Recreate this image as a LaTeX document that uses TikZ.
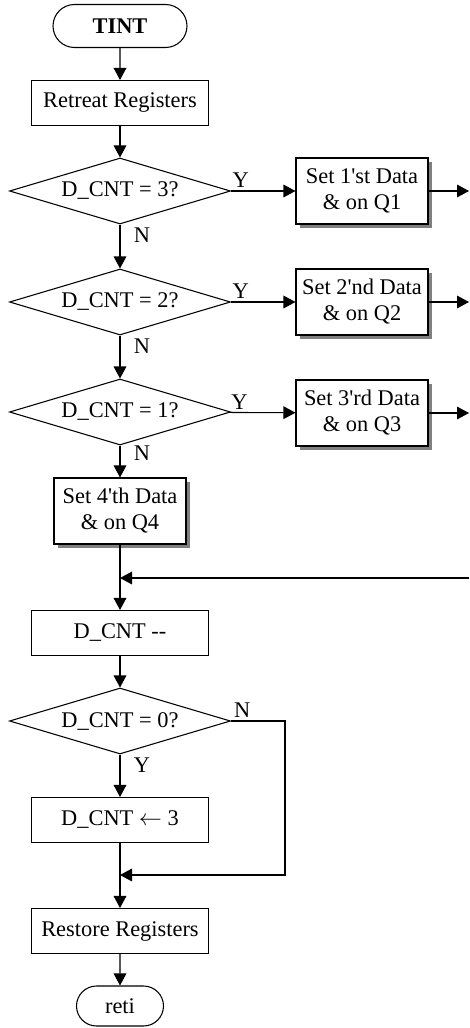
\documentclass[tikz,border=0pt]{standalone}
\usepackage{fontspec}
\setmainfont{Liberation Serif}[Ligatures=TeXOff]
\usetikzlibrary{arrows.meta}
\usetikzlibrary{shapes.geometric,shapes.misc}
\usetikzlibrary{shadows}

\begin{document}
\begin{tikzpicture}[x=0.75pt,y=-0.75pt,->,>={Triangle[length=9pt,width=9.5pt]},
  line width=0.8pt,font=\fontsize{16.8}{19.5}\selectfont]
\tikzstyle{terminal}=[rounded rectangle,draw,fill=white,inner sep=0pt,
  minimum width=100.5pt,
  minimum height=32.25pt
]

\tikzstyle{process}=[rectangle,draw,fill=white,inner sep=0pt,
  minimum width=132.75pt,
  minimum height=33.75pt
]

\tikzstyle{decision}=[diamond,draw,fill=white,inner sep=0pt,aspect=3.35,
  minimum width=165.75pt,
  minimum height=49.5pt
]

\tikzstyle{setdata}=[rectangle,draw,fill=white,inner sep=0pt,align=center,
  minimum width=99pt,
  minimum height=49.5pt,
  drop shadow={shadow xshift=3pt,shadow yshift=-3pt,fill=gray,opacity=1}
]

\tikzstyle{lbl}=[inner sep=2pt]

\useasboundingbox (0,0) rectangle (469,1028);

% main column
\node[terminal]      (tint)    at (120,26)   {\bfseries TINT};
\node[process]       (save)    at (120,103)  {Retreat Registers};
\node[decision]      (dthree)  at (120,191)  {D\_CNT = 3?};
\node[decision]      (dtwo)    at (120,302)  {D\_CNT = 2?};
\node[decision]      (done)    at (120,412)  {D\_CNT = 1?};
\node[setdata]       (qfour)   at (120,511)  {Set 4'th Data\\\& on Q4};
\node[process]       (dec)     at (120,633)  {D\_CNT -{}-};
\node[decision]      (dzero)   at (120,721)  {D\_CNT = 0?};
\node[process]       (reload)  at (120,820)  {D\_CNT $\leftarrow$ 3};
\node[process]       (restore) at (120,931)  {Restore Registers};
\node[terminal,minimum width=65.25pt,minimum height=30pt]
                     (reti)    at (120,1006) {reti};

% side column
\node[setdata]       (qone)    at (362,191)  {Set 1'st Data\\\& on Q1};
\node[setdata]       (qtwo)    at (362,302)  {Set 2'nd Data\\\& on Q2};
\node[setdata]       (qthree)  at (362,413)  {Set 3'rd Data\\\& on Q3};

\coordinate (outone)   at (469,191);
\coordinate (outtwo)   at (469,302);
\coordinate (outthree) at (469,413);
\coordinate (back)     at (469,578);
\coordinate (jone)     at (120,578);
\coordinate (nturn)    at (285,721);
\coordinate (jtwo)     at (120,875);

\draw (tint) -- (save);
\draw (save) -- (dthree);
\draw (dthree) -- node[pos=0.15,above,lbl] {Y} (qone);
\draw (dthree) -- node[pos=0.25,right=8pt,lbl] {N} (dtwo);
\draw (dtwo) -- node[pos=0.15,above,lbl] {Y} (qtwo);
\draw (dtwo) -- node[pos=0.25,right=8pt,lbl] {N} (done);
\draw (done) -- node[pos=0.15,above,lbl] {Y} (qthree);
\draw (done) -- node[pos=0.25,right=8pt,lbl] {N} (qfour);
\draw (qone) -- (outone);
\draw (qtwo) -- (outtwo);
\draw (qthree) -- (outthree);

\draw (qfour) -- (dec);
\draw (back) -- (jone);
\draw (dec) -- (dzero);
\draw (dzero) -- node[pos=0.25,right=8pt,lbl] {Y} (reload);
\draw (dzero.east) node[above right,lbl] {N} -- (nturn) |- (jtwo);
\draw (reload) -- (restore);
\draw (restore) -- (reti);
\end{tikzpicture}
\end{document}
